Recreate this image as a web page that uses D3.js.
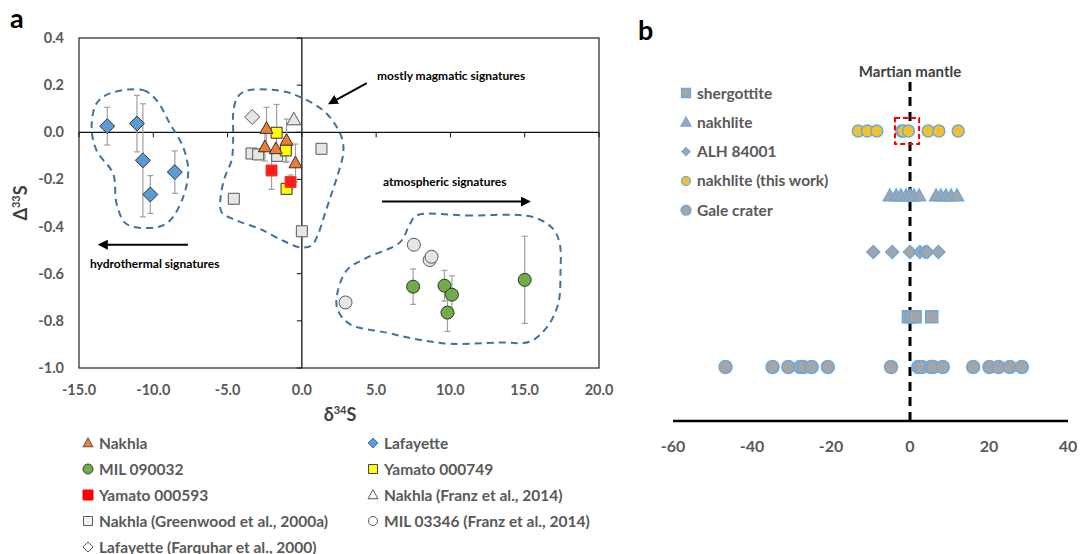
<!DOCTYPE html>
<html><head><meta charset="utf-8">
<script src="https://cdn.jsdelivr.net/npm/d3@7"></script>
<style>body{margin:0;background:#fff}text{font-family:Lato,"Open Sans",sans-serif;font-weight:bold}</style>
</head><body>
<svg id="c" width="1080" height="554"></svg>
<script>
// ---------- Panel a data ----------
const xTicksA = [-15, -10, -5, 0, 5, 10, 15, 20];
const yTicksA = [0.4, 0.2, 0.0, -0.2, -0.4, -0.6, -0.8, -1.0];
// [d34S, D33S, error]
const nakhla = [[-2.38, 0.016, 0.09], [-2.49, -0.062, 0.06], [-1.75, -0.07, 0], [-1.03, -0.034, 0.09], [-0.43, -0.13, 0.08]];
const lafayette = [[-13.1, 0.026, 0.08], [-11.1, 0.037, 0.12], [-10.7, -0.119, 0.24], [-10.2, -0.264, 0.08], [-8.55, -0.169, 0.09]];
const mil090032 = [[7.49, -0.655, 0.075], [9.6, -0.651, 0.065], [10.1, -0.689, 0.08], [9.8, -0.765, 0.08], [15.0, -0.626, 0.185]];
const yamato749 = [[-1.7, -0.002, 0.12], [-1.08, -0.077, 0.05], [-1.03, -0.24, 0]];
const yamato593 = [[-2.04, -0.162, 0.08], [-0.76, -0.211, 0.03]];
const nakhlaFranz = [[-0.54, 0.054, 0]];
const nakhlaGreenwood = [[-3.39, -0.09, 0], [-2.94, -0.094, 0], [-1.66, -0.10, 0], [1.32, -0.07, 0], [-4.58, -0.282, 0], [0.0, -0.42, 0]];
const mil03346 = [[7.54, -0.477, 0], [8.6, -0.542, 0], [8.73, -0.528, 0], [2.94, -0.722, 0]];
const lafayetteFarquhar = [[-3.34, 0.065, 0]];
// outline fields (d34S, D33S)
const hydroField = [[-12.92,0.165],[-10.68,0.179],[-9.78,0.136],[-8.88,0.037],[-7.99,-0.063],[-7.65,-0.162],[-7.99,-0.275],[-8.88,-0.374],[-9.78,-0.403],[-11.8,-0.389],[-12.47,-0.303],[-12.7,-0.176],[-13.82,-0.077],[-14.15,0.023],[-13.82,0.122]];
const magmaField = [[-3.95,0.171],[-2.83,0.182],[-1.03,0.171],[-0.13,0.150],[0.76,0.122],[1.66,0.080],[2.34,0.023],[2.74,-0.034],[2.78,-0.091],[2.44,-0.176],[2.0,-0.261],[1.55,-0.346],[1.10,-0.431],[0.65,-0.481],[-0.13,-0.488],[-1.26,-0.46],[-2.83,-0.41],[-4.39,-0.374],[-5.4,-0.339],[-5.47,-0.275],[-5.18,-0.19],[-4.73,-0.119],[-4.62,-0.02],[-4.62,0.08],[-4.39,0.143]];
const atmoField = [[7.72,-0.353],[11.08,-0.353],[15.57,-0.36],[16.91,-0.41],[17.36,-0.474],[17.41,-0.587],[17.25,-0.729],[16.47,-0.829],[15.34,-0.888],[13.32,-0.892],[9.96,-0.897],[7.72,-0.878],[5.7,-0.85],[3.23,-0.814],[2.44,-0.757],[2.34,-0.701],[3.0,-0.587],[4.35,-0.533],[6.6,-0.467],[7.27,-0.389]];
const legendA = ["Nakhla", "Lafayette", "MIL 090032", "Yamato 000749", "Yamato 000593", "Nakhla (Franz et al., 2014)", "Nakhla (Greenwood et al., 2000a)", "MIL 03346 (Franz et al., 2014)", "Lafayette (Farquhar et al., 2000)"];

// ---------- Panel b data ----------
const xTicksB = [-60, -40, -20, 0, 20, 40];
const bSeriesNames = ["shergottite", "nakhlite", "ALH 84001", "nakhlite (this work)", "Gale crater"];
const bRowLevel = [1.85, 3.9, 2.95, 5, 1];
const shergottite = [-0.4, 0.4, 1.3, 5.5];
const nakhliteB = [-5.1, -3.5, -2.3, -1.0, 0, 1.0, 2.3, 6.6, 7.8, 9.1, 10.4, 11.9];
const alh84001 = [-9.3, -4.5, 0, 2.5, 3.8, 4.4, 7.2];
const nakhliteThisWork = [-13.1, -10.8, -8.4, -2.1, -1.7, -0.4, 4.6, 7.3, 12.2];
const galeCrater = [-46.7, -34.8, -30.8, -27.8, -27.0, -24.9, -20.8, -4.8, 2.1, 3.0, 5.3, 5.9, 8.3, 16.0, 20.1, 22.4, 25.3, 28.3];

// ---------- helpers ----------
function shape(type, s) {
  switch (type) {
    case "square": return `M${-s},${-s}H${s}V${s}H${-s}Z`;
    case "diamond": return `M0,${-s}L${s},0L0,${s}L${-s},0Z`;
    case "triangle": return `M0,${-s*1.05}L${s},${s*0.75}L${-s},${s*0.75}Z`;
    default: return d3.arc()({innerRadius:0, outerRadius:s, startAngle:0, endAngle:2*Math.PI});
  }
}
const svg = d3.select("#c");
const gray = "#595959";

// ---------- Panel a ----------
const xA = d3.scaleLinear().domain([-15, 20]).range([79, 599]);
const yA = d3.scaleLinear().domain([-1.0, 0.4]).range([368, 38]);
const ga = svg.append("g");
ga.append("rect").attr("x", xA(-15)).attr("y", yA(0.4)).attr("width", xA(20)-xA(-15)).attr("height", yA(-1)-yA(0.4))
  .attr("fill", "none").attr("stroke", "#222").attr("stroke-width", 1.2);
ga.append("line").attr("x1", xA(-15)).attr("x2", xA(20)).attr("y1", yA(0)).attr("y2", yA(0)).attr("stroke", "#111").attr("stroke-width", 1.3);
ga.append("line").attr("x1", xA(0)).attr("x2", xA(0)).attr("y1", yA(0.4)).attr("y2", yA(-1)).attr("stroke", "#111").attr("stroke-width", 1.3);
xTicksA.forEach(t => ga.append("line").attr("x1", xA(t)).attr("x2", xA(t)).attr("y1", yA(0)).attr("y2", yA(0)+5).attr("stroke", "#111"));
yTicksA.forEach(t => ga.append("line").attr("x1", xA(0)-5).attr("x2", xA(0)).attr("y1", yA(t)).attr("y2", yA(t)).attr("stroke", "#111"));
ga.selectAll(".xl").data(xTicksA).join("text").attr("x", d => xA(d)).attr("y", 395).attr("text-anchor", "middle")
  .attr("font-size", 14.5).attr("fill", gray).text(d => d.toFixed(1));
ga.selectAll(".yl").data(yTicksA).join("text").attr("x", 64).attr("y", d => yA(d)+5).attr("text-anchor", "end")
  .attr("font-size", 14.5).attr("fill", gray).text(d => d.toFixed(1));
const xt = ga.append("text").attr("x", 340).attr("y", 421).attr("text-anchor", "middle").attr("font-size", 18).attr("fill", "#404040");
xt.append("tspan").text("δ"); xt.append("tspan").attr("font-size", 11).attr("dy", -7).text("34"); xt.append("tspan").attr("dy", 7).text("S");
const yt = ga.append("text").attr("transform", "translate(27,203) rotate(-90)").attr("text-anchor", "middle").attr("font-size", 18).attr("fill", "#404040");
yt.append("tspan").text("Δ"); yt.append("tspan").attr("font-size", 11).attr("dy", -7).text("33"); yt.append("tspan").attr("dy", 7).text("S");
svg.append("text").attr("x", 10).attr("y", 28).attr("font-size", 27).attr("font-family", "Arial, Liberation Sans").attr("fill", "#000").text("a");

const fieldLine = d3.line().x(d => xA(d[0])).y(d => yA(d[1])).curve(d3.curveCatmullRomClosed.alpha(0.5));
[hydroField, magmaField, atmoField].forEach(f => ga.append("path").attr("d", fieldLine(f)).attr("fill", "none")
  .attr("stroke", "#41729F").attr("stroke-width", 2).attr("stroke-dasharray", "7,5"));

const defs = svg.append("defs");
defs.append("marker").attr("id", "ah").attr("viewBox", "0 0 10 10").attr("refX", 8).attr("refY", 5)
  .attr("markerWidth", 5).attr("markerHeight", 5).attr("orient", "auto")
  .append("path").attr("d", "M0,0L10,5L0,10Z").attr("fill", "#000");
const arrows = [[[4.37, 0.209], [1.88, 0.123]], [[-7.67, -0.477], [-13.6, -0.477]], [[5.4, -0.294], [15.28, -0.294]]];
arrows.forEach(a => ga.append("line").attr("x1", xA(a[0][0])).attr("y1", yA(a[0][1])).attr("x2", xA(a[1][0])).attr("y2", yA(a[1][1]))
  .attr("stroke", "#000").attr("stroke-width", 2).attr("marker-end", "url(#ah)"));
const notes = [["mostly magmatic signatures", 377, 80], ["hydrothermal signatures", 90, 268], ["atmospheric signatures", 383, 186]];
notes.forEach(n => ga.append("text").attr("x", n[1]).attr("y", n[2]).attr("font-size", 12).attr("fill", "#000").text(n[0]));

const seriesA = [
  {data: nakhlaGreenwood, type: "square", s: 5.5, fill: "#E7E6E6", stroke: "#595959"},
  {data: lafayetteFarquhar, type: "diamond", s: 7.5, fill: "#E7E6E6", stroke: "#595959"},
  {data: nakhlaFranz, type: "triangle", s: 7, fill: "#E7E6E6", stroke: "#595959"},
  {data: mil03346, type: "circle", s: 6.5, fill: "#E7E6E6", stroke: "#595959"},
  {data: lafayette, type: "diamond", s: 7.5, fill: "#5B9BD5", stroke: "#333"},
  {data: mil090032, type: "circle", s: 6.5, fill: "#70AD47", stroke: "#333"},
  {data: yamato749, type: "square", s: 5.5, fill: "#FFFF00", stroke: "#333"},
  {data: yamato593, type: "square", s: 5.5, fill: "#FF1A1A", stroke: "#E04040"},
  {data: nakhla, type: "triangle", s: 6.5, fill: "#ED7D31", stroke: "#333"}
];
seriesA.forEach(sr => sr.data.filter(d => d[2] > 0).forEach(d => {
  const g = ga.append("g").attr("stroke", "#A0A0A0").attr("stroke-width", 1.2);
  g.append("line").attr("x1", xA(d[0])).attr("x2", xA(d[0])).attr("y1", yA(d[1]+d[2])).attr("y2", yA(d[1]-d[2]));
  [d[1]+d[2], d[1]-d[2]].forEach(v => g.append("line").attr("x1", xA(d[0])-3).attr("x2", xA(d[0])+3).attr("y1", yA(v)).attr("y2", yA(v)));
}));
seriesA.forEach(sr => ga.selectAll(null).data(sr.data).join("path")
  .attr("transform", d => `translate(${xA(d[0])},${yA(d[1])})`).attr("d", shape(sr.type, sr.s))
  .attr("fill", sr.fill).attr("stroke", sr.stroke).attr("stroke-width", 1));

const legStyle = [
  {type: "triangle", s: 5, fill: "#ED7D31", stroke: "#595959"},
  {type: "diamond", s: 5, fill: "#5B9BD5", stroke: "#41729F"},
  {type: "circle", s: 5, fill: "#70AD47", stroke: "#404040"},
  {type: "square", s: 4.5, fill: "#FFFF00", stroke: "#404040"},
  {type: "square", s: 5, fill: "#FF0000", stroke: "#FF0000"},
  {type: "triangle", s: 5, fill: "#fff", stroke: "#595959"},
  {type: "square", s: 4.5, fill: "#F2F2F2", stroke: "#595959"},
  {type: "circle", s: 4.5, fill: "#fff", stroke: "#595959"},
  {type: "diamond", s: 5, fill: "#fff", stroke: "#595959"}
];
legendA.forEach((lab, i) => {
  const col = i % 2, row = Math.floor(i / 2);
  const x = col ? 373 : 88, y = 443 + row * 26;
  const st = legStyle[i];
  svg.append("path").attr("transform", `translate(${x},${y})`).attr("d", shape(st.type, st.s))
    .attr("fill", st.fill).attr("stroke", st.stroke).attr("stroke-width", 1);
  svg.append("text").attr("x", x + 11).attr("y", y + 5.5).attr("font-size", 15.5).attr("fill", gray).text(lab);
});

// ---------- Panel b ----------
const xB = d3.scaleLinear().domain([-60, 40]).range([673, 1068]);
const yB = d3.scaleLinear().domain([0, 6]).range([426, 72]);
const gb = svg.append("g");
svg.append("text").attr("x", 638).attr("y", 40).attr("font-size", 27).attr("font-family", "Arial, Liberation Sans").attr("fill", "#000").text("b");
gb.append("line").attr("x1", xB(0)).attr("x2", xB(0)).attr("y1", 82).attr("y2", 421)
  .attr("stroke", "#000").attr("stroke-width", 3).attr("stroke-dasharray", "9,6");
gb.append("line").attr("x1", xB(-60)).attr("x2", xB(40)).attr("y1", 421).attr("y2", 421).attr("stroke", "#000").attr("stroke-width", 2.5);
gb.selectAll(".bl").data(xTicksB).join("text").attr("x", d => xB(d)).attr("y", 452).attr("text-anchor", "middle")
  .attr("font-size", 16).attr("fill", gray).text(d => d);
gb.append("text").attr("x", xB(0)).attr("y", 77).attr("text-anchor", "middle").attr("font-size", 15).attr("fill", "#404040").text("Martian mantle");
const bStyle = [
  {data: shergottite, type: "square", s: 6, fill: "#A5A5A5"},
  {data: nakhliteB, type: "triangle", s: 6.5, fill: "#A5A5A5"},
  {data: alh84001, type: "diamond", s: 6.5, fill: "#A5A5A5"},
  {data: nakhliteThisWork, type: "circle", s: 6, fill: "#F2C12E"},
  {data: galeCrater, type: "circle", s: 6.5, fill: "#A5A5A5"}
];
bStyle.forEach((sr, i) => gb.selectAll(null).data(sr.data).join("path")
  .attr("transform", d => `translate(${xB(d)},${yB(bRowLevel[i])})`).attr("d", shape(sr.type, sr.s))
  .attr("fill", sr.fill).attr("stroke", "#6FA8DC").attr("stroke-width", 1.5));
gb.append("rect").attr("x", xB(-3.8)).attr("y", yB(bRowLevel[3]) - 13).attr("width", xB(2.3) - xB(-3.8)).attr("height", 26)
  .attr("fill", "none").attr("stroke", "#FF0000").attr("stroke-width", 2).attr("stroke-dasharray", "5,3");
const bLegSize = [4.5, 5, 4, 4.5, 5];
bSeriesNames.forEach((n, i) => {
  const y = 93 + i * 29.3;
  gb.append("path").attr("transform", `translate(686,${y})`).attr("d", shape(bStyle[i].type, bLegSize[i]))
    .attr("fill", bStyle[i].fill).attr("stroke", "#6FA8DC").attr("stroke-width", 1.3);
  gb.append("text").attr("x", 697).attr("y", y + 5.5).attr("font-size", 15.5).attr("fill", gray).text(n);
});
</script>
</body></html>
